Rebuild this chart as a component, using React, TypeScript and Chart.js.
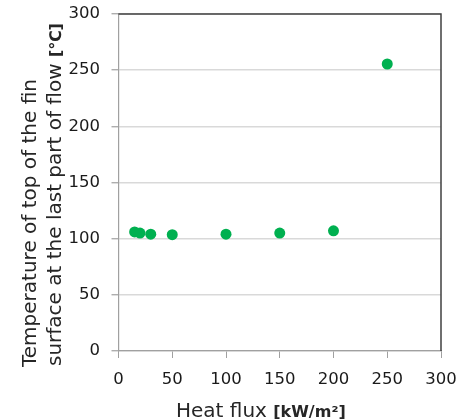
import React, { useEffect, useRef } from "react";
import { Chart, registerables } from "chart.js";

Chart.register(...registerables);

const heatFlux = [15, 20, 30, 50, 100, 150, 200, 250];
const temperature = [106, 105, 104, 103.5, 104, 105, 107, 255.5];
const yTitleLine1 = "Temperature of top of the fin";
const yTitleLine2 = "surface at the last part of flow ";
const yTitleUnit = "[℃]";
const xTitle = "Heat flux ";
const xTitleUnit = "[kW/m²]";

const FONT = "'DejaVu Sans', Verdana, sans-serif";

const framePlugin = {
  id: "frameAndTitles",
  afterDraw(chart: any) {
    const { ctx, chartArea } = chart;
    ctx.save();
    ctx.strokeStyle = "#404040";
    ctx.lineWidth = 1.5;
    ctx.beginPath();
    ctx.moveTo(chartArea.left, chartArea.top);
    ctx.lineTo(chartArea.right, chartArea.top);
    ctx.lineTo(chartArea.right, chartArea.bottom);
    ctx.stroke();

    ctx.fillStyle = "#262626";
    ctx.textBaseline = "alphabetic";
    ctx.textAlign = "left";
    ctx.font = `20px ${FONT}`;
    const xw = ctx.measureText(xTitle).width;
    ctx.fillText(xTitle, 176, 417);
    ctx.font = `bold 16px ${FONT}`;
    ctx.fillText(xTitleUnit, 176 + xw, 417);

    ctx.save();
    ctx.translate(36, 367);
    ctx.rotate(-Math.PI / 2);
    ctx.font = `20px ${FONT}`;
    ctx.fillText(yTitleLine1, 0, 0);
    ctx.restore();

    ctx.save();
    ctx.translate(61, 366);
    ctx.rotate(-Math.PI / 2);
    ctx.font = `20px ${FONT}`;
    const w2 = ctx.measureText(yTitleLine2).width;
    ctx.fillText(yTitleLine2, 0, 0);
    ctx.font = `bold 16px ${FONT}`;
    ctx.fillText(yTitleUnit, w2, 0);
    ctx.restore();

    ctx.restore();
  },
};

export default function App() {
  const ref = useRef<HTMLCanvasElement | null>(null);
  useEffect(() => {
    if (!ref.current) return;
    const chart = new Chart(ref.current, {
      type: "scatter",
      data: {
        datasets: [
          {
            data: heatFlux.map((x, i) => ({ x, y: temperature[i] })),
            backgroundColor: "#00b050",
            borderColor: "#00b050",
            pointRadius: 5.5,
            pointHoverRadius: 5.5,
            borderWidth: 0,
          },
        ],
      },
      options: {
        animation: false,
        responsive: false,
        maintainAspectRatio: false,
        layout: { padding: { left: 0, top: 14, right: 34, bottom: 0 } },
        plugins: {
          legend: { display: false },
          tooltip: { enabled: false },
        },
        scales: {
          x: {
            type: "linear",
            min: 0,
            max: 300,
            afterFit: (s: any) => {
              s.height = 69;
              s.paddingLeft = 0;
              s.paddingRight = 0;
            },
            ticks: {
              stepSize: 50,
              color: "#1a1a1a",
              font: { family: FONT, size: 16.5 },
              padding: 12,
              maxRotation: 0,
            },
            grid: {
              drawOnChartArea: false,
              drawTicks: true,
              tickLength: 7,
              tickColor: "#a0a0a0",
              color: "#a0a0a0",
            },
            border: { color: "#a0a0a0", width: 1.2 },
          },
          y: {
            type: "linear",
            min: 0,
            max: 300,
            afterFit: (s: any) => {
              s.width = 118.5;
              s.paddingTop = 0;
              s.paddingBottom = 0;
            },
            ticks: {
              stepSize: 50,
              color: "#1a1a1a",
              font: { family: FONT, size: 16.5 },
              padding: 11.5,
            },
            grid: {
              color: "#d9d9d9",
              lineWidth: 1.5,
              tickLength: 7,
              tickColor: "#a0a0a0",
              tickWidth: 1.2,
            },
            border: { color: "#a0a0a0", width: 1.2 },
          },
        },
      },
      plugins: [framePlugin],
    });
    return () => chart.destroy();
  }, []);
  return (
    <div style={{ position: "absolute", left: 0, top: 0, width: 475, height: 420, background: "#fff" }}>
      <canvas ref={ref} width={475} height={420} style={{ width: 475, height: 420, display: "block" }} />
    </div>
  );
}
